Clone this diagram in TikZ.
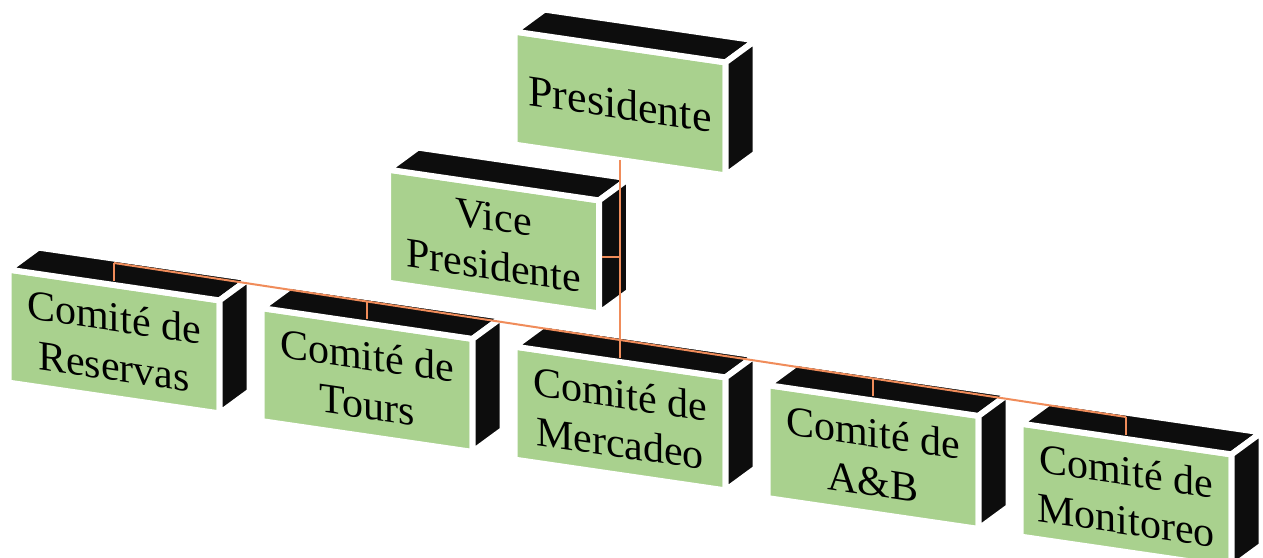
\documentclass[tikz,border=0pt]{standalone}
\usepackage{fontspec}
\setmainfont{Liberation Serif}
\usetikzlibrary{calc}
\definecolor{boxgreen}{RGB}{169,209,142}
\definecolor{boxblack}{RGB}{13,13,13}
\definecolor{linkorange}{RGB}{240,140,90}
\tikzset{
  facebox/.style={rectangle, fill=boxgreen, draw=white, line width=6pt,
    minimum width=211pt, minimum height=113pt, inner sep=0pt, outer sep=0pt,
    yslant=-0.146, align=center, font=\fontsize{42}{49}\selectfont, text=black},
  darkface/.style={fill=boxblack, draw=white, line width=6pt, line join=round},
  link/.style={draw=linkorange, line width=2pt},
}
\newcommand\mycuboid[1]{%
  \path[darkface] (#1.north west) -- (#1.north east) -- ([shift={(30pt,22pt)}]#1.north east) -- ([shift={(30pt,22pt)}]#1.north west) -- cycle;
  \path[darkface] (#1.north east) -- (#1.south east) -- ([shift={(30pt,22pt)}]#1.south east) -- ([shift={(30pt,22pt)}]#1.north east) -- cycle;
}
\begin{document}
\begin{tikzpicture}[x=1pt,y=1pt]
\useasboundingbox (0,0) rectangle (1263,557);
\fill[white] (0,0) rectangle (1263,557);

\node[facebox, font=\fontsize{44}{49}\selectfont] (P) at (620,453.5) {Presidente};
\mycuboid{P}
\node[facebox] (VP) at (493.5,315.5) {Vice\\Presidente};
\mycuboid{VP}
\node[facebox] (R) at (114,215.5) {Comité de\\Reservas};
\mycuboid{R}
\node[facebox] (T) at (367,177) {Comité de\\Tours};
\mycuboid{T}
\node[facebox] (M) at (620,138.5) {Comité de\\Mercadeo};
\mycuboid{M}
\node[facebox] (AB) at (873,100) {Comité de\\A\&B};
\mycuboid{AB}
\node[facebox] (Mo) at (1126,61.5) {Comité de\\Monitoreo};
\mycuboid{Mo}

\coordinate (rb) at ([yshift=22pt]R.north);
\coordinate (tb) at ([yshift=22pt]T.north);
\coordinate (mb) at ([yshift=22pt]M.north);
\coordinate (abb) at ([yshift=22pt]AB.north);
\coordinate (mob) at ([yshift=22pt]Mo.north);

\draw[link] (P.south) -- ([yshift=4pt]M.north);
\draw[link] ([xshift=3pt]VP.east) -- (VP.east -| P.south);
\draw[link] (rb) -- (mob);
\draw[link] (rb) -- ([yshift=4pt]R.north);
\draw[link] (tb) -- ([yshift=4pt]T.north);
\draw[link] (abb) -- ([yshift=4pt]AB.north);
\draw[link] (mob) -- ([yshift=4pt]Mo.north);
\end{tikzpicture}
\end{document}
